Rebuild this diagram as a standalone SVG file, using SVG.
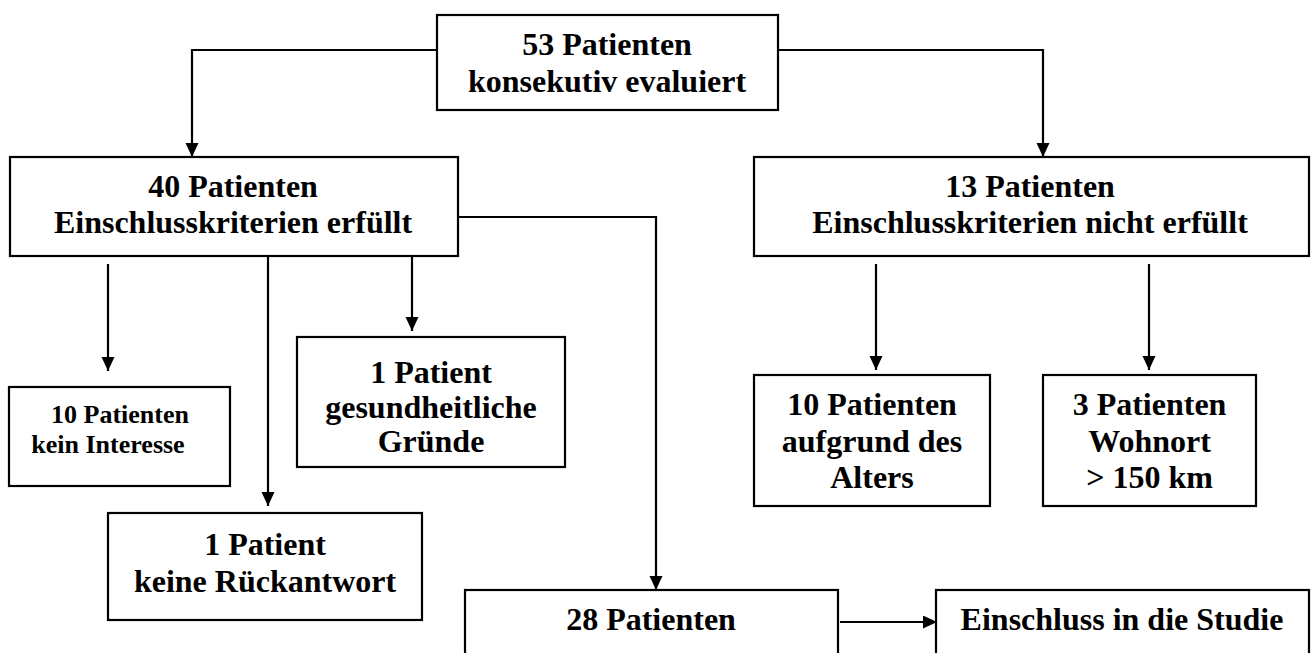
<svg xmlns="http://www.w3.org/2000/svg" width="1311" height="653" viewBox="0 0 1311 653">
<defs>
<style>
.box{fill:#fff;stroke:#000;stroke-width:2.2}
.t{font-family:'Liberation Serif','Times New Roman',Times,serif;font-weight:700;font-size:32px;fill:#000;text-anchor:middle}
.s{font-size:26px}
.c{fill:none;stroke:#000;stroke-width:2.2}
</style>
<marker id="ah" markerUnits="userSpaceOnUse" markerWidth="15" markerHeight="14" refX="14" refY="6.5" orient="auto">
<path d="M0,0 L14,6.5 L0,13 Z" fill="#000"/>
</marker>
</defs>
<rect width="1311" height="653" fill="#fff"/>
<g id="connectors">
<path class="c" d="M437,50 H192 V157" marker-end="url(#ah)"/>
<path class="c" d="M778,50 H1043 V157" marker-end="url(#ah)"/>
<path class="c" d="M458,217 H656 V590" marker-end="url(#ah)"/>
<path class="c" d="M108,264 V371" marker-end="url(#ah)"/>
<path class="c" d="M268,256 V506" marker-end="url(#ah)"/>
<path class="c" d="M412,256 V331" marker-end="url(#ah)"/>
<path class="c" d="M876,264 V370" marker-end="url(#ah)"/>
<path class="c" d="M1149,264 V370" marker-end="url(#ah)"/>
<path class="c" d="M840,622 H937" marker-end="url(#ah)"/>
</g>
<g id="n53" font-family="Liberation Serif, serif">
<rect class="box" x="437" y="15" width="341" height="95"/>
<text class="t" x="607" y="55">53 Patienten</text>
<text class="t" x="607" y="92">konsekutiv evaluiert</text>
</g>
<g id="n40">
<rect class="box" x="10" y="157" width="448" height="99"/>
<text class="t" x="233" y="197">40 Patienten</text>
<text class="t" x="233" y="233">Einschlusskriterien erfüllt</text>
</g>
<g id="n13">
<rect class="box" x="754" y="157" width="555" height="99"/>
<text class="t" x="1030" y="197">13 Patienten</text>
<text class="t" x="1030" y="233">Einschlusskriterien nicht erfüllt</text>
</g>
<g id="n10kein">
<rect class="box" x="9" y="387" width="221" height="99"/>
<text class="t s" x="120" y="423">10 Patienten</text>
<text class="t s" x="108" y="453">kein Interesse</text>
</g>
<g id="n1rueck">
<rect class="box" x="108" y="513" width="314" height="107"/>
<text class="t" x="265" y="555">1 Patient</text>
<text class="t" x="265" y="592">keine Rückantwort</text>
</g>
<g id="n1gesund">
<rect class="box" x="297" y="337" width="268" height="130"/>
<text class="t" x="431" y="383">1 Patient</text>
<text class="t" x="431" y="418">gesundheitliche</text>
<text class="t" x="431" y="452">Gründe</text>
</g>
<g id="n10alter">
<rect class="box" x="754" y="375" width="236" height="131"/>
<text class="t" x="872" y="415">10 Patienten</text>
<text class="t" x="872" y="452">aufgrund des</text>
<text class="t" x="872" y="488">Alters</text>
</g>
<g id="n3wohn">
<rect class="box" x="1043" y="375" width="213" height="131"/>
<text class="t" x="1149.5" y="415">3 Patienten</text>
<text class="t" x="1149.5" y="452">Wohnort</text>
<text class="t" x="1149.5" y="488">&gt; 150 km</text>
</g>
<g id="n28">
<rect class="box" x="465" y="590" width="373" height="100"/>
<text class="t" x="651" y="630">28 Patienten</text>
</g>
<g id="nein">
<rect class="box" x="936" y="590" width="373" height="100"/>
<text class="t" x="1122" y="630">Einschluss in die Studie</text>
</g>
</svg>
